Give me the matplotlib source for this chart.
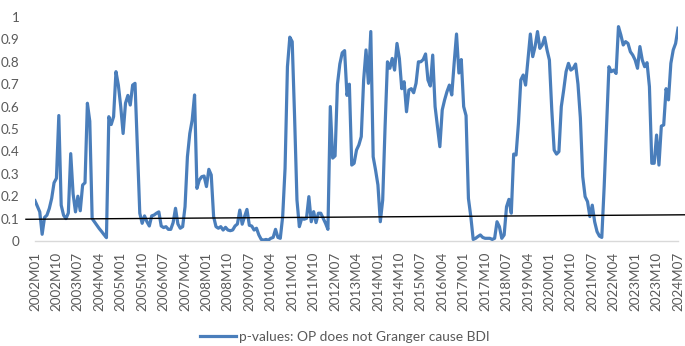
import numpy as np
import pandas as pd
import matplotlib
matplotlib.use("Agg")
import matplotlib.pyplot as plt

# Monthly p-values, 2002M01 .. 2024M07
p_values = [
    0.18, 0.155, 0.13, 0.03, 0.105, 0.115, 0.145, 0.19, 0.26, 0.28,
    0.56, 0.16, 0.115, 0.10, 0.125, 0.39, 0.21, 0.13, 0.20, 0.135,
    0.25, 0.26, 0.615, 0.535, 0.10, 0.085, 0.07, 0.055, 0.042, 0.028,
    0.015, 0.555, 0.52, 0.555, 0.756, 0.696, 0.60, 0.48, 0.615, 0.65,
    0.607, 0.696, 0.704, 0.42, 0.124, 0.079, 0.112, 0.086, 0.067, 0.112,
    0.116, 0.124, 0.13, 0.067, 0.06, 0.064, 0.052, 0.052, 0.082, 0.146,
    0.076, 0.057, 0.064, 0.153, 0.376, 0.48, 0.54, 0.652, 0.235, 0.272,
    0.287, 0.29, 0.243, 0.32, 0.295, 0.109, 0.064, 0.057, 0.064, 0.049,
    0.061, 0.049, 0.046, 0.049, 0.067, 0.076, 0.138, 0.075, 0.109, 0.141,
    0.07, 0.067, 0.049, 0.057, 0.027, 0.007, 0.004, 0.007, 0.004, 0.012,
    0.016, 0.052, 0.016, 0.012, 0.109, 0.324, 0.778, 0.91, 0.89, 0.555,
    0.183, 0.064, 0.101, 0.097, 0.101, 0.198, 0.086, 0.131, 0.082, 0.124,
    0.124, 0.101, 0.079, 0.052, 0.60, 0.37, 0.38, 0.70, 0.79, 0.84,
    0.85, 0.65, 0.70, 0.339, 0.347, 0.406, 0.429, 0.466, 0.719, 0.853,
    0.704, 0.935, 0.376, 0.317, 0.25, 0.086, 0.183, 0.51, 0.80, 0.771,
    0.815, 0.763, 0.882, 0.815, 0.68, 0.711, 0.577, 0.674, 0.68, 0.662,
    0.704, 0.80, 0.80, 0.81, 0.835, 0.719, 0.692, 0.83, 0.60, 0.51,
    0.421, 0.585, 0.63, 0.667, 0.696, 0.652, 0.793, 0.924, 0.75, 0.81,
    0.60, 0.56, 0.19, 0.109, 0.007, 0.012, 0.02, 0.027, 0.016, 0.012,
    0.012, 0.012, 0.007, 0.012, 0.086, 0.064, 0.012, 0.027, 0.153, 0.186,
    0.124, 0.388, 0.384, 0.525, 0.719, 0.741, 0.696, 0.808, 0.924, 0.823,
    0.868, 0.935, 0.86, 0.875, 0.909, 0.853, 0.808, 0.585, 0.406, 0.388,
    0.399, 0.60, 0.674, 0.756, 0.793, 0.763, 0.771, 0.79, 0.70, 0.55,
    0.287, 0.198, 0.176, 0.109, 0.16, 0.086, 0.042, 0.022, 0.016, 0.243,
    0.51, 0.778, 0.756, 0.763, 0.748, 0.957, 0.92, 0.875, 0.89, 0.882,
    0.845, 0.83, 0.808, 0.771, 0.868, 0.808, 0.778, 0.796, 0.689, 0.347,
    0.347, 0.473, 0.339, 0.513, 0.518, 0.68, 0.63, 0.793, 0.853, 0.882,
    0.95,
]

# month categories and the labelled ones (every 9th month)
months = [f"{p.year}M{p.month:02d}" for p in pd.period_range("2002-01", "2024-07", freq="M")]
label_step = 9

# the slightly tilted black reference line (month index, value at each end)
ref_x = [-3.8, 273.0]
ref_y = [0.097, 0.117]

label = "p-values: OP does not Granger cause BDI"

line_color = "#4A7EBB"
text_color = "#595959"
plt.rcParams["font.family"] = ["Lato", "DejaVu Sans"]

fig = plt.figure(figsize=(6.85, 3.46), dpi=100)
ax = fig.add_axes([35 / 685, 105 / 346, 643 / 685, 224 / 346])

x = np.arange(len(months))
ax.plot(x, p_values, color=line_color, linewidth=2.3, solid_joinstyle="round", label=label, zorder=3)
ax.plot(ref_x, ref_y, color="black", linewidth=1.0, clip_on=False, zorder=4)

ax.set_xlim(0, len(months) - 1)
ax.set_ylim(0, 1)
ax.set_yticks(np.arange(0, 1.01, 0.1))
ax.set_yticklabels(["0"] + [f"{v:.1f}".rstrip("0").rstrip(".") for v in np.arange(0.1, 1.01, 0.1)])
ax.set_xticks(x[::label_step])
ax.set_xticklabels(months[::label_step], rotation=90)

for side in ["left", "right", "top"]:
    ax.spines[side].set_visible(False)
ax.spines["bottom"].set_color("#D9D9D9")
ax.spines["bottom"].set_linewidth(1.0)

ax.tick_params(axis="y", length=0, pad=11, labelsize=9.7, labelcolor=text_color)
ax.tick_params(axis="x", length=0, pad=8, labelsize=9.7, labelcolor=text_color)

fig.legend(loc="center", bbox_to_anchor=(345 / 685, 9 / 346), frameon=False,
           fontsize=9.9, labelcolor=text_color, handlelength=2.6, handletextpad=0.2)

fig.savefig("out.png", dpi=100)
